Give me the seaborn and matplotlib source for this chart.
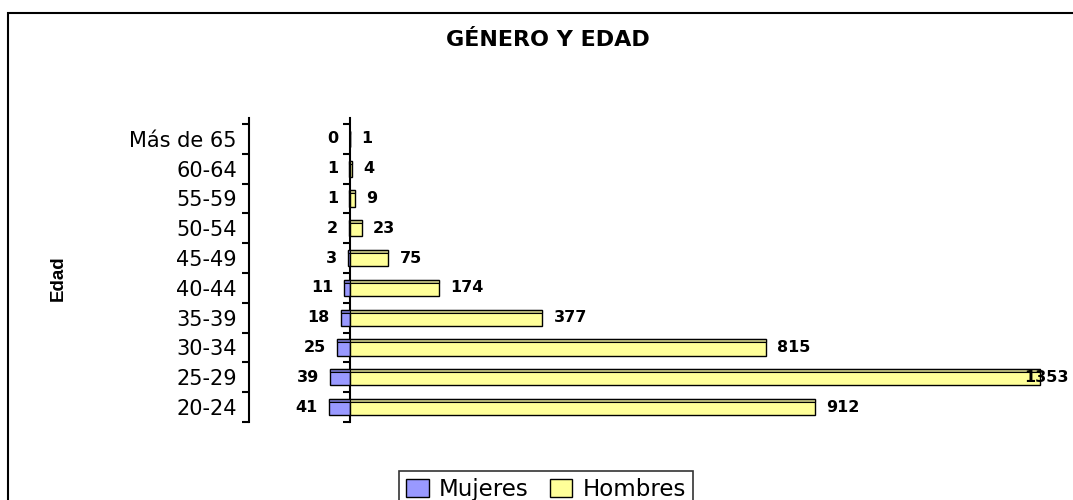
import numpy as np
import pandas as pd
import matplotlib
matplotlib.use("Agg")
import matplotlib.pyplot as plt
from matplotlib.patches import Patch, Rectangle
import seaborn as sns

# datos
edades = ["20-24", "25-29", "30-34", "35-39", "40-44", "45-49",
          "50-54", "55-59", "60-64", "Más de 65"]
mujeres = [41, 39, 25, 18, 11, 3, 2, 1, 1, 0]
hombres = [912, 1353, 815, 377, 174, 75, 23, 9, 4, 1]

COL_M = "#9999FF"
COL_H = "#FFFF99"
TOP_M = "#6B6BB8"
TOP_H = "#B8B87A"

sns.set_style("white")
plt.rcParams["font.family"] = ["DejaVu Sans"]
plt.rcParams.update({"text.color": "black", "axes.labelcolor": "black",
                     "xtick.color": "black", "ytick.color": "black",
                     "axes.edgecolor": "black"})

orden = edades[::-1]   # "Más de 65" arriba
df = pd.DataFrame({
    "edad": edades * 2,
    "valor": [-v for v in mujeres] + hombres,
    "genero": ["Mujeres"] * len(edades) + ["Hombres"] * len(edades),
})

fig = plt.figure(figsize=(10.73, 5.0), dpi=100)
ax = fig.add_axes([0.2325, 0.156, 0.7675, 0.6086])

bar_h = 0.54
sns.barplot(data=df, x="valor", y="edad", hue="genero", order=orden,
            dodge=False, palette={"Mujeres": COL_M, "Hombres": COL_H},
            saturation=1, width=bar_h, edgecolor="black", linewidth=1,
            orient="h", legend=False, ax=ax)

# franja superior (efecto 3D de las barras)
pos = np.array([orden.index(e) for e in edades])
strip = 0.1
ax.barh(pos - bar_h / 2 + strip / 2, [-v for v in mujeres], height=strip,
        color=TOP_M, edgecolor="black", linewidth=0.8)
ax.barh(pos - bar_h / 2 + strip / 2, hombres, height=strip,
        color=TOP_H, edgecolor="black", linewidth=0.8)

xmin, xmax = -197, 1418
ax.set_xlim(xmin, xmax)
ax.set_ylim(9.5, -0.71)

# etiquetas de valores
pad = 22
for p, m, h in zip(pos, mujeres, hombres):
    ax.text(-m - pad, p, str(m), ha="right", va="center",
            fontsize=11.5, fontweight="bold")
    hx = h + pad if h + pad < 1300 else h - 30
    ax.text(hx, p, str(h), ha="left", va="center",
            fontsize=11.5, fontweight="bold")

# eje de categorias: marcas en los limites, etiquetas en el centro
bordes = np.arange(-0.5, len(edades), 1)
ax.set_yticks(bordes, [""] * len(bordes))
ax.set_yticks(range(len(orden)), orden, minor=True)
ax.tick_params(axis="y", which="major", direction="out", length=5,
               width=1.5, left=True)
ax.tick_params(axis="y", which="minor", length=0, pad=9, labelsize=15)

ax.xaxis.set_visible(False)
for s in ["top", "right", "bottom"]:
    ax.spines[s].set_visible(False)
ax.spines["left"].set_linewidth(1.5)

ax.set_ylabel("Edad", fontsize=13.5, fontweight="bold",
              family=["Liberation Sans"])
ax.yaxis.set_label_coords(-0.2216, 0.473)

# linea del cero con sus marcas
frac0 = (0 - xmin) / (xmax - xmin)
sec = ax.secondary_yaxis(frac0)
sec.set_yticks(bordes, [""] * len(bordes))
sec.tick_params(direction="out", length=5, width=1.5)
sec.spines["left"].set_linewidth(1.5)

fig.text(548 / 1073, 1 - 40 / 500, "GÉNERO Y EDAD", ha="center",
         va="center", fontsize=16, fontweight="bold")

handles = [Patch(facecolor=COL_M, edgecolor="black", label="Mujeres"),
           Patch(facecolor=COL_H, edgecolor="black", label="Hombres")]
leg = fig.legend(handles=handles, loc="upper center",
                 bbox_to_anchor=(546 / 1073, 1 - 471 / 500), ncol=2,
                 fontsize=16.5, frameon=True, fancybox=False,
                 handlelength=1.0, handleheight=0.8, handletextpad=0.45,
                 columnspacing=0.9, borderpad=0.3, borderaxespad=0)
leg.get_frame().set_edgecolor("black")
leg.get_frame().set_linewidth(1.2)

# marco del grafico
fig.patches.append(Rectangle((8 / 1073, -0.2), 1.2, 1.2 - 13 / 500,
                             transform=fig.transFigure, fill=False,
                             edgecolor="black", linewidth=1.5))

fig.savefig("out.png", dpi=100)
